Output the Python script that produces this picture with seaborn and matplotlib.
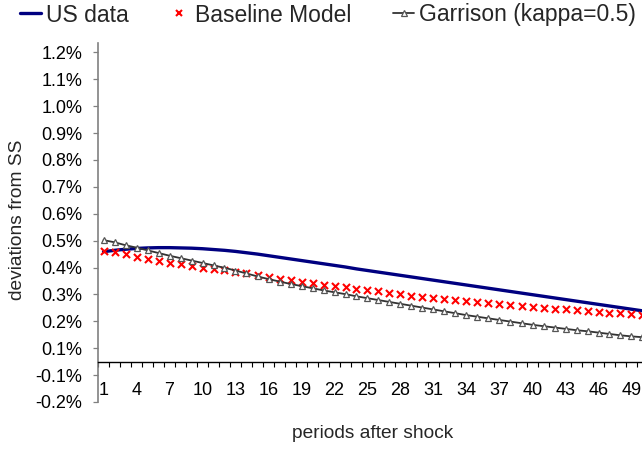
import numpy as np
import pandas as pd
import seaborn as sns
import matplotlib
matplotlib.use("Agg")
import matplotlib.pyplot as plt
from matplotlib.lines import Line2D

periods = list(range(1, 51))

us_data = [0.409, 0.414, 0.418, 0.421, 0.423, 0.424, 0.424, 0.423, 0.422, 0.420,
           0.417, 0.414, 0.410, 0.405, 0.400, 0.394, 0.388, 0.382, 0.376, 0.370,
           0.364, 0.358, 0.352, 0.345, 0.339, 0.333, 0.327, 0.321, 0.315, 0.309,
           0.303, 0.297, 0.291, 0.285, 0.279, 0.273, 0.267, 0.261, 0.255, 0.249,
           0.243, 0.237, 0.231, 0.225, 0.219, 0.213, 0.207, 0.201, 0.195, 0.189]

baseline = [0.413, 0.409, 0.399, 0.391, 0.383, 0.375, 0.368, 0.362, 0.356, 0.350,
            0.345, 0.340, 0.335, 0.328, 0.321, 0.315, 0.309, 0.303, 0.297, 0.291,
            0.286, 0.281, 0.276, 0.271, 0.266, 0.261, 0.256, 0.251, 0.246, 0.241,
            0.237, 0.232, 0.229, 0.224, 0.221, 0.218, 0.214, 0.211, 0.207, 0.204,
            0.201, 0.197, 0.195, 0.191, 0.188, 0.185, 0.182, 0.180, 0.176, 0.173]

garrison = [0.452, 0.444, 0.433, 0.424, 0.414, 0.404, 0.394, 0.385, 0.376, 0.367,
            0.358, 0.349, 0.339, 0.328, 0.317, 0.307, 0.298, 0.289, 0.281, 0.273,
            0.265, 0.258, 0.251, 0.243, 0.236, 0.229, 0.222, 0.215, 0.208, 0.201,
            0.194, 0.187, 0.180, 0.173, 0.167, 0.161, 0.155, 0.149, 0.143, 0.137,
            0.132, 0.127, 0.122, 0.117, 0.113, 0.108, 0.103, 0.098, 0.094, 0.091]

series_names = ["US data", "Baseline Model", "Garrison (kappa=0.5)"]
y_tick_values = [-0.15, -0.05, 0.05, 0.15, 0.25, 0.35, 0.45, 0.55, 0.65, 0.75,
                 0.85, 0.95, 1.05, 1.15]
y_tick_labels = ["-0.2%", "-0.1%", "0.1%", "0.2%", "0.3%", "0.4%", "0.5%", "0.6%",
                 "0.7%", "0.8%", "0.9%", "1.0%", "1.1%", "1.2%"]
x_tick_values = list(range(1, 50, 3))

sns.set_theme(style="white")
plt.rcParams["font.family"] = ["Liberation Sans", "DejaVu Sans"]

W, H = 642, 451
fig = plt.figure(figsize=(W / 100, H / 100), dpi=100)
ax = fig.add_axes([98 / W, 1 - 402 / H, 550 / W, (402 - 43) / H])

df = pd.DataFrame({"period": periods, "us": us_data, "base": baseline, "garr": garrison})

navy = "#000080"
sns.lineplot(data=df, x="period", y="us", ax=ax, color=navy, linewidth=2.4, zorder=3)
sns.scatterplot(data=df, x="period", y="base", ax=ax, marker="x", color="red",
                s=26, linewidth=1.5, zorder=4)
sns.lineplot(data=df, x="period", y="garr", ax=ax, color="#333333", linewidth=1.3,
             marker="^", markersize=5, markerfacecolor="white",
             markeredgecolor="#555555", markeredgewidth=0.9, zorder=5)

ax.set_xlim(0.5, 50.5)
ax.set_ylim(-0.15, 1.185)
ax.set_xlabel("")
ax.set_ylabel("")

for s in ["top", "right"]:
    ax.spines[s].set_visible(False)
ax.spines["bottom"].set_position(("data", 0))
ax.spines["bottom"].set_color("black")
ax.spines["bottom"].set_linewidth(1.0)
ax.spines["left"].set_color("#808080")
ax.spines["left"].set_linewidth(1.2)

ax.set_xticks(x_tick_values)
ax.set_xticklabels([str(v) for v in x_tick_values])
ax.set_xticks(np.arange(0.5, 50.6, 1), minor=True)
ax.tick_params(axis="x", which="major", length=0, pad=15, labelsize=13, colors="black")
ax.tick_params(axis="x", which="minor", length=3.6, width=0.8, color="black",
               direction="out", bottom=True)

ax.set_yticks(y_tick_values)
ax.set_yticklabels(y_tick_labels)
ax.tick_params(axis="y", which="major", length=3.6, width=0.9, color="#808080",
               direction="out", left=True, pad=7.5, labelsize=13, labelcolor="black")

fig.text(18 / W, 1 - 220 / H, "deviations from SS", rotation=90, ha="center",
         va="center", fontsize=13.8)
fig.text(373 / W, 1 - 434 / H, "periods after shock", ha="center", va="center",
         fontsize=13.8)

h_us = Line2D([], [], color=navy, linewidth=2.4)
h_base = Line2D([], [], color="red", linestyle="none", marker="x", markersize=4.5,
                markeredgewidth=1.5)
h_garr = Line2D([], [], color="#333333", linewidth=1.3, marker="^", markersize=5,
                markerfacecolor="white", markeredgecolor="#555555", markeredgewidth=0.9)

legend_specs = [(h_us, series_names[0], 20), (h_base, series_names[1], 168.5),
                (h_garr, series_names[2], 393)]
for h, lab, x0 in legend_specs:
    fig.legend(handles=[h], labels=[lab], loc="center left",
               bbox_to_anchor=(x0 / W, 1 - 15 / H), frameon=False, fontsize=16.5,
               handlelength=0.92, handletextpad=0.22, borderpad=0, borderaxespad=0)

fig.savefig("out.png", dpi=100, facecolor="white")
